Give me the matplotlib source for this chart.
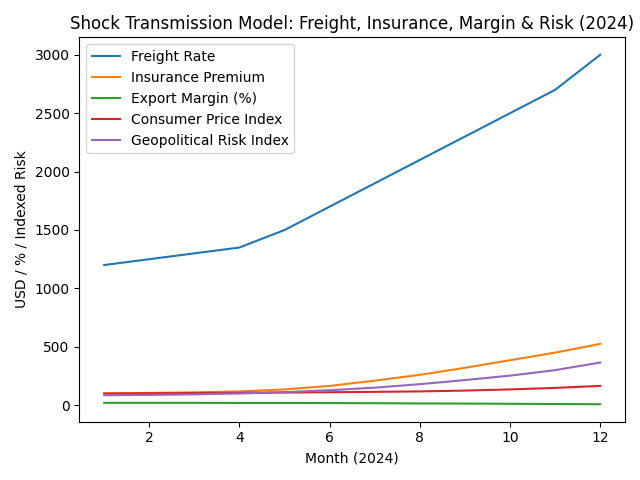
import numpy as np
import matplotlib.pyplot as plt

months = np.arange(1, 13)
freight = [1200, 1250, 1300, 1350, 1500, 1700, 1900, 2100, 2300, 2500, 2700, 3000]
insurance = [100, 105, 110, 118, 135, 165, 210, 260, 320, 385, 450, 525]
margin = [20, 20, 20, 19, 19, 18, 17, 15, 14, 12, 10, 8]
cpi = [100, 102, 104, 106, 108, 111, 114, 118, 125, 135, 148, 165]
risk = [85, 88, 93, 100, 112, 128, 150, 180, 215, 253, 300, 365]

fig, ax = plt.subplots(figsize=(6.4, 4.8), dpi=100)
ax.plot(months, freight, label="Freight Rate")
ax.plot(months, insurance, label="Insurance Premium")
ax.plot(months, margin, label="Export Margin (%)")
ax.plot(months, cpi, label="Consumer Price Index")
ax.plot(months, risk, label="Geopolitical Risk Index")

ax.set_title("Shock Transmission Model: Freight, Insurance, Margin & Risk (2024)")
ax.set_xlabel("Month (2024)")
ax.set_ylabel("USD / % / Indexed Risk")
ax.legend(loc="upper left")
fig.tight_layout()
fig.savefig("out.png")
